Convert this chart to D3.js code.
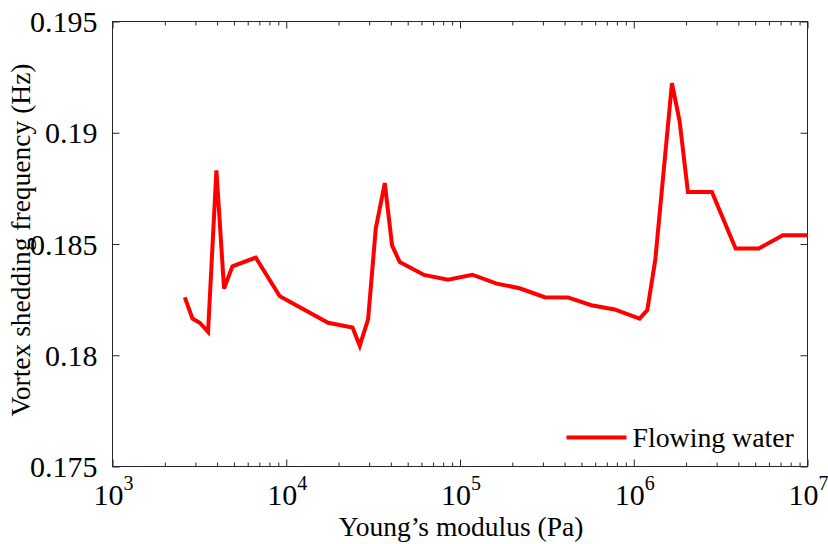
<!DOCTYPE html>
<html>
<head>
<meta charset="utf-8">
<script src="https://cdn.jsdelivr.net/npm/d3@7/dist/d3.min.js"></script>
<style>
  html, body { margin: 0; padding: 0; background: #fff; }
  svg { display: block; }
  text { font-family: "Liberation Serif", "Times New Roman", serif; fill: #000; }
  .axis path, .axis line { stroke: #262626; }
</style>
</head>
<body>
<div id="chart"></div>
<script>
// Young's modulus (Pa) vs vortex shedding frequency (Hz)
const modulusPa = [
  2606, 2885, 3178, 3548, 3963, 4385, 4900, 6680, 9180,
  17420, 24060, 26490, 29580, 32750, 36900, 40640, 45000,
  62100, 85300, 117800, 162600, 220400, 306900, 417800,
  570100, 776000, 1081000, 1197000, 1331000, 1659000,
  1837000, 2050000, 2818000, 3857000, 5248000, 7211000, 10000000
];
const frequencyHz = [
  0.18260, 0.18165, 0.18146, 0.18105, 0.18831, 0.18300, 0.18400, 0.18439, 0.18265,
  0.18146, 0.18125, 0.18043, 0.18161, 0.18569, 0.18774, 0.18494, 0.18419,
  0.18361, 0.18340, 0.18362, 0.18322, 0.18301, 0.18261, 0.18260,
  0.18225, 0.18206, 0.18165, 0.18203, 0.18430, 0.19223,
  0.19051, 0.18734, 0.18734, 0.18480, 0.18480, 0.18539, 0.18539
];
const seriesName = "Flowing water";

const xTicks = [1e3, 1e4, 1e5, 1e6, 1e7];
const yTicks = [0.175, 0.18, 0.185, 0.19, 0.195];
const yTickLabels = ["0.175", "0.18", "0.185", "0.19", "0.195"];

const xLabel = "Young’s modulus (Pa)";
const yLabel = "Vortex shedding frequency (Hz)";

const width = 828, height = 544;
const margin = { top: 21.5, right: 20.5, bottom: 77.5, left: 112.5 };
const innerW = width - margin.left - margin.right;
const innerH = height - margin.top - margin.bottom;

const svg = d3.select("#chart").append("svg")
  .attr("width", width)
  .attr("height", height);

const g = svg.append("g")
  .attr("transform", `translate(${margin.left},${margin.top})`);

const x = d3.scaleLog().domain([1e3, 1e7]).range([0, innerW]);
const y = d3.scaleLinear().domain([0.175, 0.195]).range([innerH, 0]);

// minor ticks 2..9 x 10^k
const minorTicks = [];
xTicks.slice(0, -1).forEach(p => {
  for (let k = 2; k <= 9; k++) minorTicks.push(p * k);
});

const major = 7, minor = 4;

function tickAxis(axis, tr) {
  const a = g.append("g")
    .attr("class", "axis")
    .attr("transform", tr)
    .call(axis);
  a.select(".domain").remove();
  a.selectAll("text").remove();
  a.selectAll("line").attr("stroke-width", 1);
  return a;
}

// inward ticks on all four sides
tickAxis(d3.axisBottom(x).tickValues(xTicks).tickSize(-major), `translate(0,${innerH})`);
tickAxis(d3.axisBottom(x).tickValues(minorTicks).tickSize(-minor), `translate(0,${innerH})`);
tickAxis(d3.axisTop(x).tickValues(xTicks).tickSize(-major), "translate(0,0)");
tickAxis(d3.axisTop(x).tickValues(minorTicks).tickSize(-minor), "translate(0,0)");
tickAxis(d3.axisLeft(y).tickValues(yTicks).tickSize(-major), "translate(0,0)");
tickAxis(d3.axisRight(y).tickValues(yTicks).tickSize(-major), `translate(${innerW},0)`);

// box
g.append("rect")
  .attr("x", 0).attr("y", 0)
  .attr("width", innerW).attr("height", innerH)
  .attr("fill", "none")
  .attr("stroke", "#262626")
  .attr("stroke-width", 1);

// y tick labels
g.selectAll("text.ytl")
  .data(yTicks)
  .join("text")
  .attr("class", "ytl")
  .attr("x", -15)
  .attr("y", d => y(d))
  .attr("dy", "0.35em")
  .attr("text-anchor", "end")
  .style("font-size", "30px")
  .text((d, i) => yTickLabels[i]);

// x tick labels: 10^n
const xl = g.selectAll("text.xtl")
  .data(xTicks)
  .join("text")
  .attr("class", "xtl")
  .attr("x", d => x(d) + 1)
  .attr("y", innerH + 38)
  .attr("text-anchor", "middle")
  .style("font-size", "30px");
xl.append("tspan").text("10");
xl.append("tspan")
  .attr("dy", -15)
  .style("font-size", "20px")
  .text(d => Math.round(Math.log10(d)));

// axis titles
g.append("text")
  .attr("x", innerW / 2 + 1)
  .attr("y", innerH + 69)
  .attr("text-anchor", "middle")
  .style("font-size", "27.5px")
  .text(xLabel);

g.append("text")
  .attr("transform", `translate(${30 - margin.left},${240 - margin.top}) rotate(-90)`)
  .attr("text-anchor", "middle")
  .style("font-size", "27.5px")
  .text(yLabel);

// the series
const line = d3.line()
  .x((d, i) => x(modulusPa[i]))
  .y(d => y(d));

g.append("path")
  .datum(frequencyHz)
  .attr("fill", "none")
  .attr("stroke", "#ff0000")
  .attr("stroke-width", 4)
  .attr("stroke-linejoin", "miter")
  .attr("d", line);

// legend
const lg = g.append("g")
  .attr("transform", `translate(${566.5 - margin.left},${437.5 - margin.top})`);
lg.append("line")
  .attr("x1", 0).attr("x2", 60)
  .attr("y1", 0).attr("y2", 0)
  .attr("stroke", "#ff0000")
  .attr("stroke-width", 4);
lg.append("text")
  .attr("x", 66)
  .attr("y", 0)
  .attr("dy", "0.33em")
  .style("font-size", "27.8px")
  .text(seriesName);
</script>
</body>
</html>
